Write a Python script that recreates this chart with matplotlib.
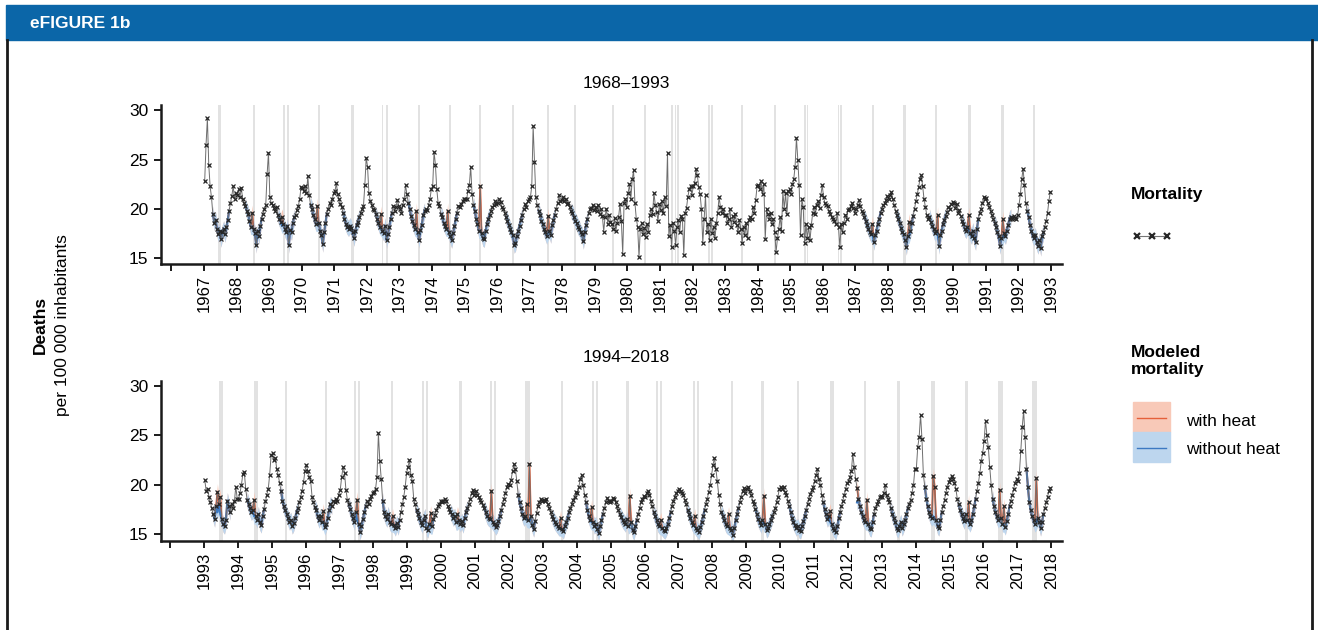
import numpy as np
import matplotlib
matplotlib.use("Agg")
import matplotlib.pyplot as plt
import matplotlib.transforms as mtransforms
from matplotlib.patches import Rectangle
from matplotlib.lines import Line2D

plt.rcParams['font.family'] = ['Liberation Sans', 'DejaVu Sans']

# ---- data: deaths per 100 000, 24 readings per year (semi-monthly) ----
mort_top = [
    # 1968
    22.8, 26.5, 29.2, 24.5, 22.3, 21.2, 19.5, 18.6, 18.9, 18.0, 17.4, 17.8, 16.9, 17.6, 18.0, 17.4, 18.2, 18.9, 19.8, 20.6, 21.3, 22.3, 21.0, 21.6,
    # 1969
    21.4, 22.0, 21.2, 22.1, 21.0, 20.6, 20.3, 19.8, 19.5, 18.8, 18.2, 19.6, 18.0, 17.5, 16.3, 17.8, 17.2, 18.3, 19.0, 19.5, 20.0, 20.4, 23.5, 25.7,
    # 1970
    21.2, 20.6, 20.4, 20.1, 19.8, 20.2, 19.4, 19.0, 18.7, 19.2, 18.5, 18.0, 17.6, 18.3, 16.3, 17.9, 17.6, 18.6, 19.2, 19.4, 19.9, 20.3, 21.0, 22.2,
    # 1971
    22.1, 21.8, 22.3, 21.6, 23.3, 21.4, 20.4, 20.0, 19.4, 19.0, 18.5, 20.3, 18.6, 17.8, 17.3, 16.4, 17.6, 18.6, 19.5, 20.0, 20.6, 20.4, 21.0, 21.6,
    # 1972
    21.8, 22.6, 21.5, 21.0, 20.5, 20.2, 19.6, 19.0, 18.5, 18.2, 18.0, 18.3, 18.1, 17.6, 17.0, 17.8, 18.4, 18.7, 19.2, 19.6, 20.0, 20.3, 22.4, 25.2,
    # 1973
    24.3, 21.6, 20.8, 20.4, 20.0, 19.9, 19.5, 19.0, 18.6, 18.2, 19.5, 17.8, 17.5, 18.3, 16.8, 17.4, 18.2, 19.0, 19.6, 20.3, 19.8, 20.2, 20.9, 20.3,
    # 1974
    20.0, 19.6, 20.4, 21.0, 22.4, 21.5, 20.6, 20.0, 19.3, 18.8, 18.4, 18.0, 19.8, 17.6, 16.8, 17.9, 18.4, 19.4, 19.8, 20.0, 19.9, 20.4, 21.0, 22.0,
    # 1975
    22.3, 25.8, 24.5, 22.0, 20.6, 20.3, 19.5, 19.2, 18.6, 18.3, 18.0, 19.8, 17.6, 17.2, 16.8, 17.5, 18.3, 19.0, 19.6, 20.3, 20.2, 20.5, 20.8, 21.0,
    # 1976
    21.0, 21.0, 21.8, 22.4, 24.3, 21.5, 20.4, 19.8, 19.0, 18.5, 17.8, 22.3, 17.5, 17.0, 16.9, 17.8, 18.5, 19.0, 19.4, 19.8, 20.2, 20.4, 20.8, 20.5,
    # 1977
    20.6, 21.0, 20.7, 20.2, 20.0, 19.6, 19.2, 18.8, 18.4, 18.0, 17.6, 17.3, 16.3, 16.5, 17.2, 17.8, 18.3, 18.9, 19.4, 20.0, 20.5, 20.2, 20.8, 21.0,
    # 1978
    21.2, 22.3, 28.4, 24.8, 21.2, 20.4, 19.8, 19.4, 18.8, 18.5, 18.0, 17.6, 17.2, 19.3, 17.8, 17.3, 18.4, 18.9, 19.4, 20.0, 20.6, 21.4, 20.8, 20.9,
    # 1979
    21.2, 20.8, 21.0, 20.5, 20.6, 20.2, 19.8, 19.6, 19.2, 18.8, 18.6, 18.2, 18.0, 17.6, 17.4, 16.7, 17.6, 18.4, 19.0, 19.6, 20.0, 20.1, 20.4, 19.9,
    # 1980
    20.2, 19.8, 20.4, 19.5, 20.0, 19.3, 17.7, 19.2, 20.0, 18.5, 19.4, 18.7, 18.5, 18.0, 19.1, 17.8, 18.6, 19.2, 20.5, 18.8, 15.4, 20.6, 21.0, 20.2,
    # 1981
    21.6, 22.5, 21.0, 23.0, 23.9, 20.6, 19.0, 18.2, 15.1, 18.0, 18.6, 17.4, 18.1, 17.1, 18.5, 17.6, 19.4, 20.0, 19.5, 21.6, 20.4, 19.7, 18.8, 20.5,
    # 1982
    19.9, 20.8, 19.6, 21.2, 20.3, 25.7, 17.2, 18.4, 16.1, 18.6, 17.8, 16.3, 18.2, 18.9, 17.6, 19.3, 19.0, 15.3, 19.6, 20.1, 21.2, 22.0, 22.3, 21.4,
    # 1983
    22.3, 22.6, 24.1, 23.4, 22.2, 21.5, 20.0, 16.5, 19.0, 21.4, 17.6, 18.5, 16.8, 19.0, 17.5, 18.2, 17.0, 18.6, 19.6, 21.2, 20.2, 19.6, 20.0, 19.4,
    # 1984
    19.4, 18.6, 19.0, 20.0, 18.2, 19.3, 18.7, 19.5, 18.4, 17.6, 18.9, 18.0, 16.5, 18.2, 17.3, 18.6, 17.0, 18.9, 19.2, 19.0, 20.2, 19.6, 20.9, 22.3,
    # 1985
    22.4, 22.0, 22.8, 21.5, 22.5, 16.9, 20.0, 19.5, 19.0, 19.6, 18.5, 19.0, 17.6, 15.6, 17.0, 18.0, 19.2, 17.8, 21.8, 20.0, 21.6, 19.5, 21.8, 22.0,
    # 1986
    21.5, 22.5, 23.0, 24.3, 27.2, 25.0, 22.4, 17.3, 21.0, 20.2, 16.5, 18.5, 17.0, 18.2, 16.8, 18.4, 19.6, 20.2, 19.5, 20.4, 20.8, 20.1, 21.4, 22.4,
    # 1987
    21.2, 20.6, 20.4, 20.3, 19.8, 19.5, 19.2, 19.0, 18.8, 18.5, 19.6, 18.2, 16.1, 18.5, 17.6, 18.6, 19.4, 19.0, 19.9, 20.0, 20.3, 20.6, 20.1, 19.6,
    # 1988
    20.0, 20.4, 20.9, 20.3, 19.8, 19.6, 19.2, 18.8, 18.4, 18.0, 17.7, 17.4, 18.5, 16.6, 17.3, 17.8, 18.5, 19.0, 19.6, 20.0, 20.4, 20.6, 20.9, 21.3,
    # 1989
    21.0, 21.4, 21.7, 21.0, 20.4, 19.8, 19.4, 19.0, 18.6, 18.1, 17.6, 17.4, 16.8, 16.1, 17.2, 18.7, 17.8, 18.6, 19.3, 20.0, 20.8, 21.5, 22.2, 23.0,
    # 1990
    23.4, 22.3, 21.0, 20.2, 19.4, 19.0, 19.2, 18.7, 18.3, 18.0, 17.5, 17.8, 19.4, 16.2, 17.3, 17.8, 18.5, 18.9, 19.3, 19.7, 20.2, 20.0, 20.5, 20.7,
    # 1991
    20.6, 20.1, 20.5, 19.6, 19.9, 19.3, 18.8, 18.5, 18.0, 17.8, 18.2, 19.4, 17.5, 17.2, 17.8, 17.0, 16.6, 18.0, 19.0, 19.6, 20.0, 20.6, 21.2, 21.0,
    # 1992
    21.1, 20.6, 20.2, 19.8, 19.4, 19.0, 18.6, 18.2, 17.6, 17.2, 16.2, 17.0, 19.0, 17.5, 17.2, 17.8, 18.4, 19.0, 19.2, 19.0, 19.3, 19.1, 19.0, 19.4,
    # 1993
    20.4, 21.5, 23.0, 24.1, 22.4, 20.6, 19.8, 19.2, 18.4, 17.8, 17.3, 17.0, 17.3, 16.6, 16.2, 16.8, 16.0, 17.2, 17.6, 18.2, 18.8, 19.6, 20.8, 21.7,
]

mort_bot = [
    # 1994
    20.5, 19.4, 19.6, 18.8, 18.2, 17.6, 17.0, 16.5, 17.8, 19.3, 18.0, 18.8, 16.5, 16.0, 15.8, 16.4, 18.4, 17.8, 17.2, 18.0, 17.6, 18.3, 19.8, 18.6,
    # 1995
    18.6, 19.2, 20.0, 21.1, 21.3, 19.6, 18.5, 18.0, 17.6, 17.2, 17.4, 18.5, 16.8, 16.4, 17.0, 16.2, 15.9, 16.8, 17.5, 18.3, 19.0, 19.6, 21.0, 23.0,
    # 1996
    23.2, 22.5, 22.7, 21.6, 21.0, 20.2, 19.4, 18.4, 17.8, 17.4, 17.0, 16.6, 16.2, 16.4, 15.8, 16.1, 16.6, 17.2, 17.6, 18.2, 18.8, 19.4, 20.3, 21.4,
    # 1997
    22.0, 21.4, 20.8, 20.4, 18.8, 18.2, 17.7, 17.4, 16.8, 16.4, 16.8, 16.2, 17.3, 15.7, 16.0, 16.6, 17.4, 18.0, 17.8, 18.4, 18.2, 18.6, 18.4, 19.0,
    # 1998
    19.5, 20.8, 21.8, 21.2, 19.5, 18.5, 18.0, 17.5, 17.0, 16.6, 16.2, 17.2, 18.5, 16.0, 15.2, 15.8, 16.5, 17.2, 17.8, 18.3, 18.0, 18.6, 18.9, 19.2,
    # 1999
    19.3, 19.6, 20.8, 25.2, 22.4, 20.6, 18.4, 17.2, 16.8, 16.5, 17.0, 16.2, 16.0, 16.8, 15.9, 15.6, 16.1, 15.7, 16.4, 17.2, 18.0, 18.8, 19.8, 21.2,
    # 2000
    21.8, 22.5, 21.0, 20.4, 18.6, 18.0, 17.4, 17.0, 16.6, 16.2, 15.9, 16.4, 16.8, 15.6, 15.4, 16.0, 17.1, 15.8, 16.5, 16.9, 17.4, 17.8, 18.0, 18.4,
    # 2001
    18.2, 18.4, 18.6, 18.3, 17.8, 17.5, 17.2, 17.0, 16.6, 16.8, 16.2, 17.0, 16.4, 16.0, 16.3, 15.9, 16.6, 17.2, 17.6, 18.0, 18.6, 19.2, 19.5, 19.0,
    # 2002
    19.4, 19.0, 18.8, 18.5, 18.2, 17.9, 17.6, 17.2, 16.8, 16.6, 16.5, 19.4, 16.2, 16.0, 15.7, 15.9, 16.3, 16.8, 17.4, 18.0, 18.6, 19.2, 19.8, 20.1,
    # 2003
    20.0, 20.5, 21.4, 22.1, 21.6, 20.4, 19.0, 18.2, 17.6, 17.0, 16.6, 16.8, 18.0, 16.4, 22.1, 16.8, 15.9, 15.5, 16.3, 17.1, 17.8, 18.2, 18.6, 18.4,
    # 2004
    18.5, 18.3, 18.6, 18.0, 17.6, 17.2, 16.8, 16.5, 16.2, 16.0, 15.8, 15.6, 16.6, 15.5, 15.3, 15.8, 16.2, 16.6, 17.2, 17.6, 18.0, 18.5, 18.8, 19.3,
    # 2005
    19.2, 19.8, 20.6, 21.0, 20.0, 19.0, 18.2, 17.4, 16.8, 16.4, 17.7, 16.2, 15.8, 16.0, 15.5, 15.1, 15.8, 16.4, 17.0, 17.6, 18.2, 18.7, 18.4, 18.2,
    # 2006
    18.4, 18.7, 18.6, 18.2, 17.8, 17.4, 17.0, 16.7, 16.4, 16.2, 16.0, 16.5, 15.8, 18.9, 16.2, 15.4, 15.2, 15.8, 16.4, 17.0, 17.6, 18.2, 18.6, 18.9,
    # 2007
    18.8, 19.2, 19.4, 19.0, 18.4, 17.8, 17.2, 16.8, 16.4, 16.0, 15.8, 16.4, 15.6, 15.4, 15.3, 15.6, 16.0, 16.6, 17.2, 17.8, 18.4, 18.8, 19.2, 19.4,
    # 2008
    19.6, 19.4, 19.2, 19.0, 18.5, 18.0, 17.4, 17.0, 16.6, 16.2, 15.9, 16.8, 15.6, 15.4, 15.2, 15.7, 16.2, 16.8, 17.4, 18.0, 18.6, 19.3, 20.0, 21.0,
    # 2009
    22.0, 22.7, 21.6, 20.4, 19.0, 18.0, 17.2, 16.8, 16.4, 16.0, 15.8, 17.0, 15.6, 15.4, 14.9, 15.6, 16.4, 17.0, 17.6, 18.2, 18.8, 19.4, 19.7, 19.2,
    # 2010
    19.6, 19.8, 19.4, 19.0, 18.4, 18.0, 17.5, 17.0, 16.5, 16.2, 15.9, 16.4, 18.9, 16.0, 15.4, 15.6, 16.0, 16.4, 16.8, 17.2, 17.6, 18.2, 18.8, 19.6,
    # 2011
    19.8, 19.6, 19.8, 19.3, 19.0, 18.4, 17.8, 17.2, 16.6, 16.2, 15.9, 15.6, 15.8, 15.4, 15.3, 15.8, 16.3, 16.8, 17.4, 18.0, 18.6, 19.1, 19.5, 19.8,
    # 2012
    20.4, 21.0, 21.6, 20.6, 20.0, 19.0, 18.2, 17.5, 17.0, 16.5, 16.8, 17.3, 16.0, 15.6, 15.4, 15.2, 15.8, 16.6, 17.2, 17.8, 18.4, 19.0, 19.6, 20.2,
    # 2013
    20.4, 20.8, 21.4, 23.1, 21.8, 20.6, 19.7, 18.6, 17.8, 17.2, 16.8, 16.4, 16.2, 18.5, 16.0, 15.6, 15.5, 16.2, 17.0, 17.6, 18.0, 18.4, 18.8, 18.9,
    # 2014
    18.8, 19.2, 20.0, 19.0, 18.6, 18.2, 17.6, 17.0, 16.6, 16.2, 15.6, 15.4, 15.8, 16.2, 15.6, 16.0, 16.4, 17.0, 17.6, 18.0, 18.5, 19.2, 20.0, 21.6,
    # 2015
    21.6, 23.8, 24.8, 27.1, 24.6, 21.0, 19.8, 18.6, 17.8, 17.2, 16.8, 16.6, 20.9, 19.8, 16.4, 15.8, 15.6, 16.4, 17.2, 17.8, 18.5, 19.2, 19.8, 20.3,
    # 2016
    20.6, 20.9, 20.6, 20.2, 19.6, 18.6, 18.0, 17.4, 17.0, 16.6, 16.3, 17.0, 16.4, 18.2, 16.0, 16.4, 17.0, 17.8, 18.6, 19.4, 20.2, 21.2, 22.4, 23.2,
    # 2017
    24.4, 26.5, 25.0, 23.8, 21.8, 20.0, 18.6, 17.8, 17.2, 16.8, 16.4, 19.5, 16.6, 16.0, 17.8, 15.7, 16.3, 17.0, 17.8, 18.4, 19.0, 19.6, 20.2, 20.6,
    # 2018
    20.4, 21.2, 23.4, 25.8, 27.5, 24.8, 21.6, 19.8, 18.2, 17.4, 16.8, 16.4, 16.0, 20.7, 16.6, 16.2, 15.6, 16.2, 17.0, 17.6, 18.2, 18.8, 19.4, 19.7,
]

# years that have modeled summer mortality
model_years_top = [1968, 1969, 1970, 1971, 1972, 1973, 1974, 1975, 1976, 1977, 1978, 1979,
                   1988, 1989, 1990, 1991, 1992, 1993]
model_years_bot = list(range(1994, 2019))

# heat-related excess: year, reading index, modeled value without heat
heat_top_year = [1969, 1970, 1971, 1973, 1974, 1975, 1976, 1978, 1988, 1989, 1990, 1991, 1992]
heat_top_idx = [11, 9, 11, 10, 12, 11, 11, 13, 12, 15, 12, 11, 12]
heat_top_base = [18.2, 18.3, 18.5, 18.0, 17.9, 18.0, 17.8, 17.6, 17.4, 17.3, 17.6, 17.8, 17.1]

heat_bot_year = [1994, 1994, 1995, 1997, 1998, 1999, 2000, 2001, 2002, 2003, 2003, 2004, 2005, 2006,
                 2007, 2008, 2009, 2010, 2012, 2013, 2013, 2015, 2015, 2016, 2017, 2017, 2018]
heat_bot_idx = [9, 11, 11, 12, 12, 13, 16, 11, 11, 12, 14, 12, 10, 13, 11, 11, 11, 12, 11, 6, 13, 12, 13, 13, 11, 14, 13]
heat_bot_base = [17.2, 17.0, 16.8, 16.2, 16.4, 16.0, 15.8, 16.2, 16.4, 16.5, 16.4, 15.6, 16.2, 15.9,
                 15.7, 15.8, 15.7, 16.0, 16.2, 18.2, 16.2, 16.8, 16.6, 16.3, 16.6, 16.0, 16.2]

# heat wave periods (grey bands)
waves_top = [(1968.44, 1968.53), (1969.49, 1969.58), (1970.43, 1970.48), (1970.54, 1970.60),
             (1971.50, 1971.56), (1972.52, 1972.59), (1973.45, 1973.51), (1973.59, 1973.65),
             (1974.56, 1974.63), (1975.51, 1975.59), (1976.43, 1976.51), (1977.46, 1977.52),
             (1978.53, 1978.59), (1979.35, 1979.41), (1980.53, 1980.59), (1981.50, 1981.56),
             (1982.35, 1982.39), (1982.45, 1982.49), (1982.53, 1982.58), (1983.47, 1983.52),
             (1983.56, 1983.62), (1984.48, 1984.54), (1985.51, 1985.57), (1986.42, 1986.47),
             (1986.50, 1986.55), (1987.45, 1987.50), (1987.54, 1987.59), (1988.50, 1988.56),
             (1989.47, 1989.54), (1990.44, 1990.50), (1991.46, 1991.54), (1992.48, 1992.56),
             (1993.46, 1993.51)]
waves_bot = [(1994.45, 1994.55), (1995.48, 1995.58), (1996.39, 1996.44), (1997.57, 1997.62),
             (1998.43, 1998.48), (1998.55, 1998.61), (1999.51, 1999.59), (2000.44, 2000.49),
             (2000.56, 2000.62), (2001.51, 2001.61), (2002.45, 2002.50), (2002.55, 2002.61),
             (2003.47, 2003.63), (2004.53, 2004.59), (2005.45, 2005.51), (2005.57, 2005.63),
             (2006.45, 2006.53), (2007.35, 2007.40), (2007.45, 2007.53), (2008.44, 2008.50),
             (2008.54, 2008.60), (2009.54, 2009.62), (2010.44, 2010.52), (2011.51, 2011.57),
             (2012.48, 2012.58), (2013.47, 2013.55), (2014.45, 2014.53), (2015.44, 2015.58),
             (2016.46, 2016.56), (2017.42, 2017.57), (2018.43, 2018.57)]

W, H = 1318, 630
fig = plt.figure(figsize=(W / 100, H / 100), dpi=100)


def fx(x):
    return x / W


def fy(y):
    return 1 - y / H


RED_FILL, BLUE_FILL = '#f8c9b8', '#bdd6ee'
RED_LINE, BLUE_LINE = '#e5603a', '#3c79c2'


def panel(rect, first, vals, waves, myears, hy, hi, hb, ticks, xlim, ylim):
    ax = fig.add_axes(rect)
    v = np.array(vals).reshape(-1, 24)
    x = np.arange(first, first + v.shape[0])[:, None] + (np.arange(24) + 0.5) / 24

    for a, b in waves:
        ax.axvspan(a, b, color='#e2e2e2', lw=0, zorder=0)

    # modeled summer mortality
    for yr in myears:
        r = yr - first
        xs = x[r, 6:19]
        obs = v[r, 6:19]
        nh = obs.copy()
        for y_, i_, b_ in zip(hy, hi, hb):
            if y_ == yr:
                nh[i_ - 6] = b_
        ax.fill_between(xs, obs - 0.8, obs + 0.8, color=RED_FILL, lw=0, zorder=1)
        ax.fill_between(xs, nh - 0.8, nh + 0.8, color=BLUE_FILL, lw=0, zorder=1.5)
        ax.plot(xs, obs, color=RED_LINE, lw=1.3, zorder=2)
        ax.plot(xs, nh, color=BLUE_LINE, lw=1.5, zorder=2.5)

    ax.plot(x.ravel(), v.ravel(), color='#6e6e6e', lw=0.7, zorder=3)
    ax.plot(x.ravel(), v.ravel(), ls='none', marker='x', ms=2.3, mew=0.9,
            color='#262626', zorder=4)

    ax.set_xlim(*xlim)
    ax.set_ylim(*ylim)
    ax.set_yticks([15, 20, 25, 30])
    ax.set_xticks(ticks)
    ax.set_xticklabels([''] + [str(t - 1) for t in ticks[1:]], rotation=90,
                       fontsize=12)
    off = mtransforms.ScaledTranslation(-0.09, 0, fig.dpi_scale_trans)
    for lbl in ax.get_xticklabels():
        lbl.set_transform(lbl.get_transform() + off)
    ax.tick_params(axis='y', labelsize=12.5, length=5, width=1.4, pad=4, color='#1a1a1a')
    ax.tick_params(axis='x', length=5, width=1.4, pad=3, color='#1a1a1a')
    for s in ['top', 'right']:
        ax.spines[s].set_visible(False)
    for s in ['left', 'bottom']:
        ax.spines[s].set_linewidth(1.8)
        ax.spines[s].set_color('#1a1a1a')
    return ax


panel([fx(161), fy(264), fx(1062) - fx(161), (264 - 105) / H], 1968, mort_top, waves_top,
      model_years_top, heat_top_year, heat_top_idx, heat_top_base,
      list(range(1967, 1995)), (1966.68, 1994.34), (14.4, 30.55))
panel([fx(161), fy(541), fx(1062) - fx(161), (541 - 381) / H], 1994, mort_bot, waves_bot,
      model_years_bot, heat_bot_year, heat_bot_idx, heat_bot_base,
      list(range(1993, 2020)), (1992.73, 2019.32), (14.3, 30.5))

fig.text(fx(626), fy(84), '1968–1993', ha='center', va='center', fontsize=12.5)
fig.text(fx(626), fy(357), '1994–2018', ha='center', va='center', fontsize=12.5)

# y label
fig.text(fx(40), fy(325), 'Deaths', rotation=90, ha='center', va='center',
         fontsize=12.5, fontweight='bold')
fig.text(fx(63), fy(325), 'per 100 000 inhabitants', rotation=90, ha='center',
         va='center', fontsize=12.5)

# header and frame
fig.patches.append(Rectangle((fx(6), fy(40)), 1, 35 / H, transform=fig.transFigure,
                             color='#0b66a8', zorder=0))
fig.text(fx(30), fy(23), 'eFIGURE 1b', color='white', fontweight='bold', fontsize=12.5,
         va='center', ha='left')
fig.lines.append(Line2D([fx(7), fx(7)], [0, fy(40)], transform=fig.transFigure,
                        color='#1a1a1a', lw=2))
fig.lines.append(Line2D([fx(1312), fx(1312)], [0, fy(40)], transform=fig.transFigure,
                        color='#1a1a1a', lw=2))

# legend
fig.text(fx(1131), fy(195), 'Mortality', fontweight='bold', fontsize=12.5, va='center')
fig.lines.append(Line2D([fx(1137), fx(1152), fx(1167)], [fy(236)] * 3,
                        transform=fig.transFigure, color='#777777', lw=0.8,
                        marker='x', ms=5, mew=1.6, mec='#262626'))
fig.text(fx(1131), fy(361), 'Modeled\nmortality', fontweight='bold', fontsize=12.5,
         va='center', linespacing=1.15)
fig.patches.append(Rectangle((fx(1133), fy(432)), 37 / W, 30 / H, transform=fig.transFigure,
                             color=RED_FILL))
fig.patches.append(Rectangle((fx(1133), fy(462)), 37 / W, 30 / H, transform=fig.transFigure,
                             color=BLUE_FILL))
fig.lines.append(Line2D([fx(1137), fx(1166)], [fy(418)] * 2, transform=fig.transFigure,
                        color=RED_LINE, lw=1))
fig.lines.append(Line2D([fx(1137), fx(1166)], [fy(448)] * 2, transform=fig.transFigure,
                        color=BLUE_LINE, lw=1))
fig.text(fx(1186), fy(421), 'with heat', fontsize=12.5, va='center')
fig.text(fx(1186), fy(449), 'without heat', fontsize=12.5, va='center')

fig.savefig('out.png', dpi=100)
